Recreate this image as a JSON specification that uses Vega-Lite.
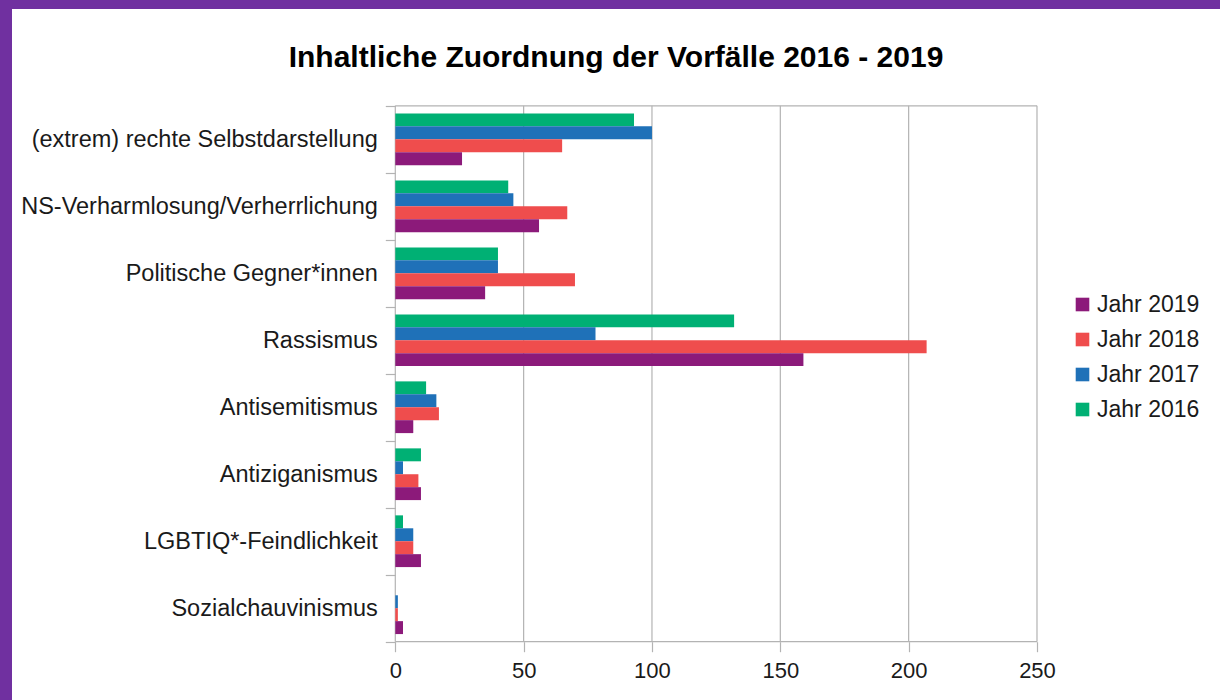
{
  "$schema": "https://vega.github.io/schema/vega-lite/v6.json",
  "width": 1208,
  "height": 691,
  "autosize": {"type": "none"},
  "padding": {"left": 12, "top": 9, "right": 0, "bottom": 0},
  "background": "#7030a0",
  "config": {
    "view": {"fill": "white", "stroke": null},
    "font": "Liberation Sans"
  },
  "title": {
    "text": "Inhaltliche Zuordnung der Vorfälle 2016 - 2019",
    "font": "Liberation Sans",
    "fontSize": 30,
    "fontWeight": "bold",
    "color": "#000000",
    "anchor": "middle",
    "baseline": "alphabetic",
    "offset": -100
  },
  "data": {
    "values": [
      {"kategorie": "(extrem) rechte Selbstdarstellung", "jahr": "Jahr 2016", "anzahl": 93},
      {"kategorie": "(extrem) rechte Selbstdarstellung", "jahr": "Jahr 2017", "anzahl": 100},
      {"kategorie": "(extrem) rechte Selbstdarstellung", "jahr": "Jahr 2018", "anzahl": 65},
      {"kategorie": "(extrem) rechte Selbstdarstellung", "jahr": "Jahr 2019", "anzahl": 26},
      {"kategorie": "NS-Verharmlosung/Verherrlichung", "jahr": "Jahr 2016", "anzahl": 44},
      {"kategorie": "NS-Verharmlosung/Verherrlichung", "jahr": "Jahr 2017", "anzahl": 46},
      {"kategorie": "NS-Verharmlosung/Verherrlichung", "jahr": "Jahr 2018", "anzahl": 67},
      {"kategorie": "NS-Verharmlosung/Verherrlichung", "jahr": "Jahr 2019", "anzahl": 56},
      {"kategorie": "Politische Gegner*innen", "jahr": "Jahr 2016", "anzahl": 40},
      {"kategorie": "Politische Gegner*innen", "jahr": "Jahr 2017", "anzahl": 40},
      {"kategorie": "Politische Gegner*innen", "jahr": "Jahr 2018", "anzahl": 70},
      {"kategorie": "Politische Gegner*innen", "jahr": "Jahr 2019", "anzahl": 35},
      {"kategorie": "Rassismus", "jahr": "Jahr 2016", "anzahl": 132},
      {"kategorie": "Rassismus", "jahr": "Jahr 2017", "anzahl": 78},
      {"kategorie": "Rassismus", "jahr": "Jahr 2018", "anzahl": 207},
      {"kategorie": "Rassismus", "jahr": "Jahr 2019", "anzahl": 159},
      {"kategorie": "Antisemitismus", "jahr": "Jahr 2016", "anzahl": 12},
      {"kategorie": "Antisemitismus", "jahr": "Jahr 2017", "anzahl": 16},
      {"kategorie": "Antisemitismus", "jahr": "Jahr 2018", "anzahl": 17},
      {"kategorie": "Antisemitismus", "jahr": "Jahr 2019", "anzahl": 7},
      {"kategorie": "Antiziganismus", "jahr": "Jahr 2016", "anzahl": 10},
      {"kategorie": "Antiziganismus", "jahr": "Jahr 2017", "anzahl": 3},
      {"kategorie": "Antiziganismus", "jahr": "Jahr 2018", "anzahl": 9},
      {"kategorie": "Antiziganismus", "jahr": "Jahr 2019", "anzahl": 10},
      {"kategorie": "LGBTIQ*-Feindlichkeit", "jahr": "Jahr 2016", "anzahl": 3},
      {"kategorie": "LGBTIQ*-Feindlichkeit", "jahr": "Jahr 2017", "anzahl": 7},
      {"kategorie": "LGBTIQ*-Feindlichkeit", "jahr": "Jahr 2018", "anzahl": 7},
      {"kategorie": "LGBTIQ*-Feindlichkeit", "jahr": "Jahr 2019", "anzahl": 10},
      {"kategorie": "Sozialchauvinismus", "jahr": "Jahr 2016", "anzahl": 0},
      {"kategorie": "Sozialchauvinismus", "jahr": "Jahr 2017", "anzahl": 1},
      {"kategorie": "Sozialchauvinismus", "jahr": "Jahr 2018", "anzahl": 1},
      {"kategorie": "Sozialchauvinismus", "jahr": "Jahr 2019", "anzahl": 3}
    ]
  },
  "encoding": {
    "y": {
      "field": "kategorie",
      "type": "nominal",
      "sort": null,
      "scale": {
        "domain": ["(extrem) rechte Selbstdarstellung", "NS-Verharmlosung/Verherrlichung", "Politische Gegner*innen", "Rassismus", "Antisemitismus", "Antiziganismus", "LGBTIQ*-Feindlichkeit", "Sozialchauvinismus"],
        "range": [96.8, 632.7],
        "paddingInner": 0,
        "paddingOuter": 0
      },
      "axis": {
        "title": null,
        "orient": "left",
        "offset": -383.3,
        "domain": false,
        "grid": false,
        "ticks": true,
        "tickBand": "extent",
        "tickSize": 10,
        "tickColor": "#b3b3b3",
        "tickWidth": 1.2,
        "labelFont": "Liberation Sans",
        "labelFontSize": 23.5,
        "labelColor": "#1a1a1a",
        "labelPadding": 8,
        "labelLimit": 0,
        "labelBaseline": "middle"
      }
    },
    "x": {
      "type": "quantitative",
      "scale": {"domain": [-149.33, 321.3], "nice": false, "zero": false},
      "axis": {
        "title": null,
        "orient": "bottom",
        "offset": -58.3,
        "values": [0, 50, 100, 150, 200, 250],
        "domain": false,
        "grid": false,
        "tickSize": 10,
        "tickColor": "#b3b3b3",
        "tickWidth": 1.2,
        "labelFont": "Liberation Sans",
        "labelFontSize": 22,
        "labelColor": "#1a1a1a",
        "labelPadding": 9,
        "labelFlush": false
      }
    }
  },
  "layer": [
    {
      "data": {"values": [{"g": 0}, {"g": 50}, {"g": 100}, {"g": 150}, {"g": 200}, {"g": 250}]},
      "mark": {"type": "rule", "color": "#b3b3b3", "strokeWidth": 1.2},
      "encoding": {
        "x": {"field": "g", "type": "quantitative"},
        "y": {"datum": "(extrem) rechte Selbstdarstellung", "type": "nominal", "bandPosition": 0},
        "y2": {"datum": "Sozialchauvinismus", "bandPosition": 1}
      }
    },
    {
      "data": {"values": [{}]},
      "mark": {"type": "rule", "color": "#b3b3b3", "strokeWidth": 1.2},
      "encoding": {
        "x": {"datum": 0, "type": "quantitative"},
        "x2": {"datum": 250},
        "y": {"datum": "(extrem) rechte Selbstdarstellung", "type": "nominal", "bandPosition": 0}
      }
    },
    {
      "data": {"values": [{}]},
      "mark": {"type": "rule", "color": "#b3b3b3", "strokeWidth": 1.2},
      "encoding": {
        "x": {"datum": 0, "type": "quantitative"},
        "x2": {"datum": 250},
        "y": {"datum": "Sozialchauvinismus", "type": "nominal", "bandPosition": 1}
      }
    },
    {
      "mark": {"type": "bar"},
      "encoding": {
        "x": {"field": "anzahl", "type": "quantitative"},
        "yOffset": {
          "field": "jahr",
          "type": "nominal",
          "sort": ["Jahr 2016", "Jahr 2017", "Jahr 2018", "Jahr 2019"],
          "scale": {"domain": ["Jahr 2016", "Jahr 2017", "Jahr 2018", "Jahr 2019"], "paddingInner": 0, "paddingOuter": 0.59}
        },
        "color": {
          "field": "jahr",
          "type": "nominal",
          "scale": {
            "domain": ["Jahr 2019", "Jahr 2018", "Jahr 2017", "Jahr 2016"],
            "range": ["#8c1a7a", "#ef4d4d", "#1f71b8", "#00b074"]
          },
          "legend": {
            "title": null,
            "orient": "none",
            "legendX": 1059,
            "legendY": 284,
            "padding": 0,
            "symbolType": "square",
            "symbolSize": 185,
            "symbolStrokeWidth": 0,
            "symbolOpacity": 1,
            "labelFont": "Liberation Sans",
            "labelFontSize": 23,
            "labelColor": "#1a1a1a",
            "labelOffset": 3,
            "rowPadding": 11
          }
        }
      }
    }
  ]
}
